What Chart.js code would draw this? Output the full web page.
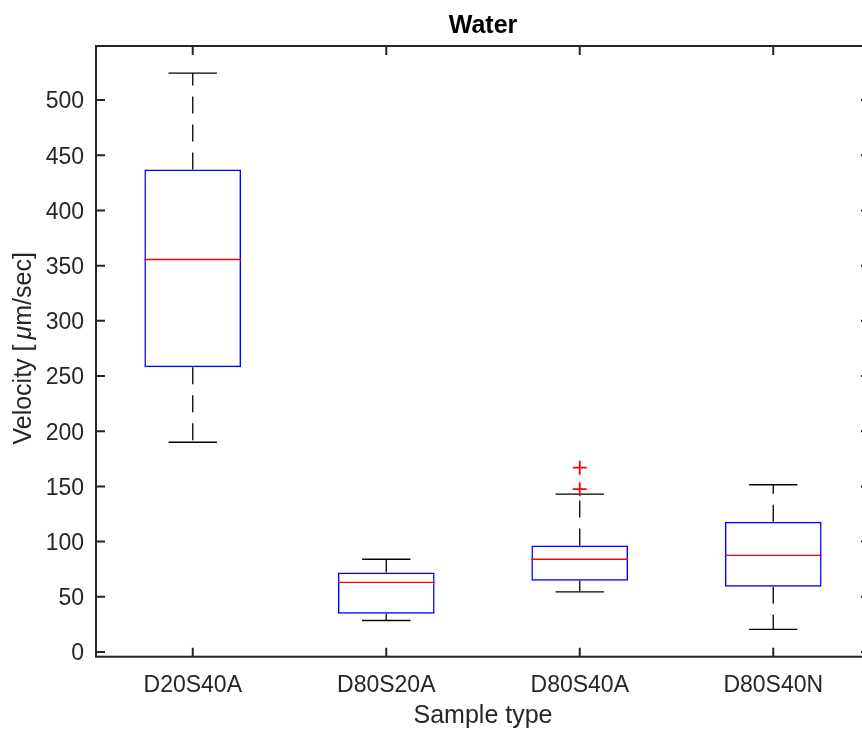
<!DOCTYPE html>
<html>
<head>
<meta charset="utf-8">
<script src="https://cdn.jsdelivr.net/npm/chart.js"></script>
<style>
  html, body { margin: 0; padding: 0; background: #fff; overflow: hidden; }
  #wrap { width: 880px; height: 729px; }
</style>
</head>
<body>
<div id="wrap"><canvas id="c" width="880" height="729"></canvas></div>
<script>
// values
const categories = ['D20S40A', 'D80S20A', 'D80S40A', 'D80S40N'];
const lowerWhisker = [190, 28.5, 54.5, 20.5];
const q1 = [258, 34.5, 64.5, 59];
const medians = [355.5, 63, 84, 87.5];
const q3 = [437, 72, 96.5, 118];
const upperWhisker = [524.5, 84, 143, 151.5];
const outlierGroup = [3, 3];
const outlierValues = [147.5, 167];
const yTicks = [0, 50, 100, 150, 200, 250, 300, 350, 400, 450, 500];

const axisColor = '#262626';
const font = "'Liberation Sans', Arial, Helvetica, sans-serif";

const boxData = categories.map((c, i) => ({ x: i + 1, y: [q1[i], q3[i]] }));
const outlierData = outlierValues.map((v, i) => ({ x: outlierGroup[i], y: v }));

// whiskers, caps, medians, frame, inward ticks and titles
const boxplotExtras = {
  id: 'boxplotExtras',
  beforeDatasetsDraw(chart) {
    const { ctx, scales: { x, y } } = chart;
    const half = (x.getPixelForValue(1.125) - x.getPixelForValue(1));
    ctx.save();
    ctx.strokeStyle = '#000';
    ctx.lineWidth = 1.3;
    categories.forEach((c, i) => {
      const px = x.getPixelForValue(i + 1);
      // dashed whiskers drawn from box edge outwards
      ctx.setLineDash([17, 11]);
      ctx.beginPath();
      ctx.moveTo(px, y.getPixelForValue(q3[i]));
      ctx.lineTo(px, y.getPixelForValue(upperWhisker[i]));
      ctx.stroke();
      ctx.beginPath();
      ctx.moveTo(px, y.getPixelForValue(q1[i]));
      ctx.lineTo(px, y.getPixelForValue(lowerWhisker[i]));
      ctx.stroke();
      // caps
      ctx.setLineDash([]);
      [upperWhisker[i], lowerWhisker[i]].forEach(v => {
        const py = y.getPixelForValue(v);
        ctx.beginPath();
        ctx.moveTo(px - half, py);
        ctx.lineTo(px + half, py);
        ctx.stroke();
      });
    });
    ctx.restore();
  },
  afterDatasetsDraw(chart) {
    const { ctx, chartArea: a, scales: { x, y } } = chart;
    ctx.save();
    // medians
    ctx.strokeStyle = '#ff0000';
    ctx.lineWidth = 1.4;
    categories.forEach((c, i) => {
      const l = x.getPixelForValue(i + 0.75), r = x.getPixelForValue(i + 1.25);
      const py = y.getPixelForValue(medians[i]);
      ctx.beginPath();
      ctx.moveTo(l, py);
      ctx.lineTo(r, py);
      ctx.stroke();
    });
    // frame
    ctx.strokeStyle = axisColor;
    ctx.lineWidth = 2;
    ctx.strokeRect(a.left, a.top, a.right - a.left, a.bottom - a.top);
    // inward ticks
    const tl = 9;
    ctx.beginPath();
    y.ticks.forEach(t => {
      const py = y.getPixelForValue(t.value);
      ctx.moveTo(a.left, py); ctx.lineTo(a.left + tl, py);
      ctx.moveTo(a.right, py); ctx.lineTo(a.right - tl, py);
    });
    x.ticks.forEach(t => {
      const px = x.getPixelForValue(t.value);
      ctx.moveTo(px, a.bottom); ctx.lineTo(px, a.bottom - tl);
      ctx.moveTo(px, a.top); ctx.lineTo(px, a.top + tl);
    });
    ctx.stroke();
    ctx.restore();
  },
  afterDraw(chart) {
    const { ctx, chartArea: a } = chart;
    const cx = (a.left + a.right) / 2;
    ctx.save();
    ctx.fillStyle = '#000';
    ctx.textAlign = 'center';
    ctx.textBaseline = 'alphabetic';
    ctx.font = 'bold 25px ' + font;
    ctx.fillText('Water', cx, 33);
    ctx.fillStyle = axisColor;
    ctx.font = '25px ' + font;
    ctx.fillText('Sample type', cx, 723);
    // y label with italic mu
    const parts = [
      ['Velocity [\u2009', '25px ' + font],
      ['\u03BC', 'italic 25px ' + font],
      ['m/sec]', '25px ' + font]
    ];
    let total = 0;
    parts.forEach(p => { ctx.font = p[1]; total += ctx.measureText(p[0]).width; });
    ctx.translate(31, (a.top + a.bottom) / 2 - 3);
    ctx.rotate(-Math.PI / 2);
    ctx.textAlign = 'left';
    let xo = -total / 2;
    parts.forEach(p => {
      ctx.font = p[1];
      ctx.fillText(p[0], xo, 0);
      xo += ctx.measureText(p[0]).width;
    });
    ctx.restore();
  }
};

new Chart(document.getElementById('c'), {
  data: {
    datasets: [
      {
        type: 'bar',
        data: boxData,
        backgroundColor: 'rgba(0,0,0,0)',
        borderColor: '#0000ff',
        borderWidth: 1.5,
        borderSkipped: false,
        barPercentage: 0.5,
        categoryPercentage: 1.0
      },
      {
        type: 'scatter',
        data: outlierData,
        pointStyle: 'cross',
        pointRadius: 7,
        pointBorderWidth: 1.8,
        borderColor: '#ff0000',
        backgroundColor: '#ff0000'
      }
    ]
  },
  options: {
    responsive: false,
    devicePixelRatio: 1,
    animation: false,
    layout: { padding: { top: 46, right: 10, left: 0, bottom: 0 } },
    plugins: { legend: { display: false }, tooltip: { enabled: false }, title: { display: false } },
    scales: {
      x: {
        type: 'linear',
        min: 0.5,
        max: 4.5,
        offset: false,
        grid: { display: false, drawTicks: false, offset: false },
        border: { display: false },
        afterBuildTicks: s => { s.ticks = categories.map((c, i) => ({ value: i + 1 })); },
        afterFit: s => { s.height = 72.3; },
        ticks: {
          autoSkip: false,
          maxRotation: 0,
          padding: 15,
          color: axisColor,
          font: { family: font, size: 23 },
          callback: v => categories[v - 1]
        }
      },
      y: {
        type: 'linear',
        min: -4.3,
        max: 549,
        grid: { display: false, drawTicks: false },
        border: { display: false },
        afterBuildTicks: s => { s.ticks = yTicks.map(v => ({ value: v })); },
        afterFit: s => { s.width = 96; },
        ticks: {
          padding: 12,
          labelOffset: 2,
          color: axisColor,
          font: { family: font, size: 23 }
        }
      }
    }
  },
  plugins: [boxplotExtras]
});
</script>
</body>
</html>
